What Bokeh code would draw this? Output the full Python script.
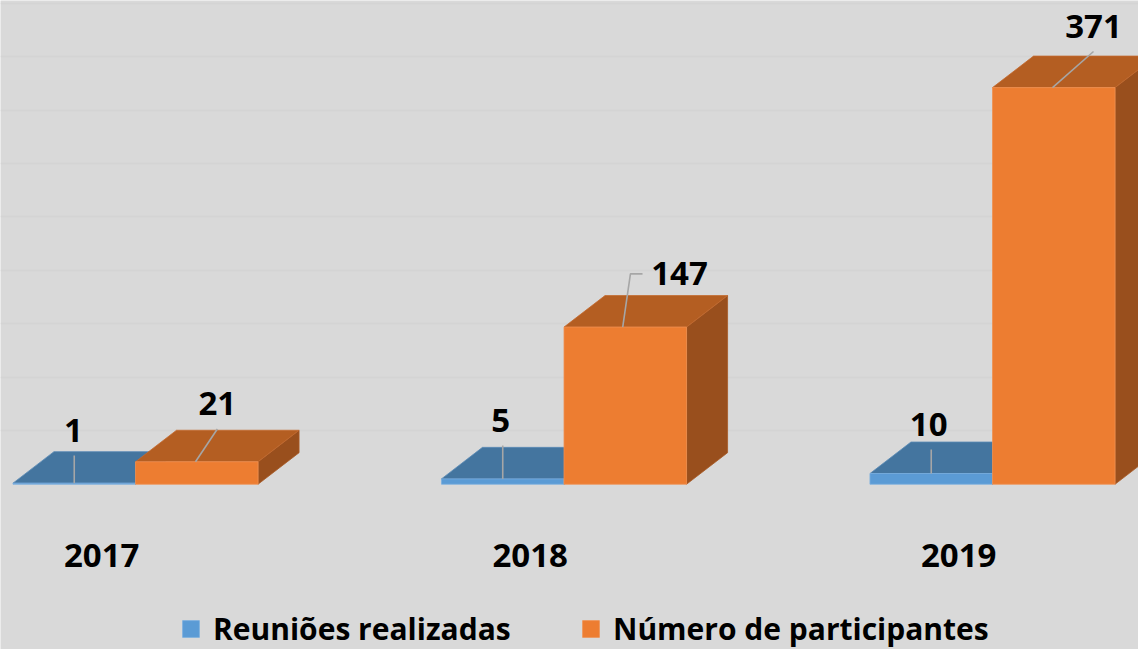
from bokeh.plotting import figure
from bokeh.models import Range1d, FixedTicker, Legend, LegendItem, Grid
from bokeh.core.properties import value
from bokeh.embed import file_html
from bokeh.resources import INLINE

# ---------------- data ----------------
years = ["2017", "2018", "2019"]
reunioes = [1, 5, 10]
participantes = [21, 147, 371]
series_names = ["Reuniões realizadas", "Número de participantes"]
grid_ticks = [50, 100, 150, 200, 250, 300, 350, 400, 450]

# ---------------- styling / geometry (data units) ----------------
W = 0.286     # width of one bar (group spacing = 1)
DX = 0.0957   # 3D depth offset along x
DY = 29.5     # 3D depth offset along y
FONT = "Open Sans"
BG = "#d9d9d9"

BLUE_FRONT, BLUE_TOP, BLUE_SIDE = "#5b9bd5", "#44759f", "#335a80"
OR_FRONT, OR_TOP, OR_SIDE = "#ed7d31", "#b45e22", "#994f1d"

# label offsets relative to front-top-centre of each bar
blue_lab_dx = [-0.002, -0.005, -0.006]
blue_lab_dy = [49.2, 54.6, 45.9]
or_lab_dx = [0.048, 0.1265, 0.0927]
or_lab_dy = [54.1, 49.8, 57.2]
LEAD_GAP = 23.4

p = figure(width=1138, height=649,
           x_range=Range1d(-0.3151, 2.3407), y_range=Range1d(-154.6, 452.5),
           x_axis_location=None, y_axis_location=None,
           output_backend="svg", toolbar_location=None, min_border=0,
           background_fill_color=BG, border_fill_color=BG, outline_line_color=None)
p.grid.visible = False
p.add_layout(Grid(dimension=1, ticker=FixedTicker(ticks=grid_ticks),
                  grid_line_color="#d4d4d4", grid_line_width=1.6))

idx = list(range(len(years)))


def faces(left, right, vals):
    tops_x, tops_y, sides_x, sides_y = [], [], [], []
    for l, r, v in zip(left, right, vals):
        tops_x.append([l, r, r + DX, l + DX])
        tops_y.append([v, v, v + DY, v + DY])
        sides_x.append([r, r + DX, r + DX, r])
        sides_y.append([0, DY, v + DY, v])
    return tops_x, tops_y, sides_x, sides_y


# blue series (left of each group)
bl = [i - W for i in idx]
br = [i for i in idx]
tx, ty, sx, sy = faces(bl, br, reunioes)
p.patches(sx, sy, fill_color=BLUE_SIDE, line_color=BLUE_SIDE, line_width=0.5)
p.patches(tx, ty, fill_color=BLUE_TOP, line_color="#5a8ab5", line_width=0.8)
blue_front = p.quad(left=bl, right=br, bottom=0, top=reunioes,
                    fill_color=BLUE_FRONT, line_color="#7aafe0", line_width=0.8)

# orange series (right of each group)
ol = [i for i in idx]
orr = [i + W for i in idx]
tx, ty, sx, sy = faces(ol, orr, participantes)
p.patches(sx, sy, fill_color=OR_SIDE, line_color="#a85a26", line_width=0.8)
p.patches(tx, ty, fill_color=OR_TOP, line_color="#c46a2e", line_width=0.8)
or_front = p.quad(left=ol, right=orr, bottom=0, top=participantes,
                  fill_color=OR_FRONT, line_color="#f09050", line_width=0.8)

# value labels + leader lines
lab_x, lab_y, lab_t = [], [], []
lead_xs, lead_ys = [], []
for i, v, dx, dy in zip(idx, reunioes, blue_lab_dx, blue_lab_dy):
    cx = i - W / 2
    lx, ly = cx + dx, v + dy
    lab_x.append(lx); lab_y.append(ly); lab_t.append(str(v))
    lead_xs.append([cx, cx]); lead_ys.append([v, ly - LEAD_GAP])
for i, v, dx, dy in zip(idx, participantes, or_lab_dx, or_lab_dy):
    cx = i + W / 2
    lx, ly = cx + dx, v + dy
    lab_x.append(lx); lab_y.append(ly); lab_t.append(str(v))
    if dx > 0.11:   # label placed to the right: elbow leader
        lead_xs.append([cx - 0.006, cx + 0.012, lx - 0.0863])
        lead_ys.append([v, ly, ly])
    else:
        lead_xs.append([cx - 0.003, lx])
        lead_ys.append([v, ly - LEAD_GAP])

p.multi_line(lead_xs, lead_ys, line_color="#a6a6a6", line_width=1.6)
p.text(x=lab_x, y=lab_y, text=lab_t, text_font=value(FONT), text_font_style="bold",
       text_font_size="33px", text_color="#000000", text_align="center",
       text_baseline="middle")

# category labels
p.text(x=[i - 0.079 for i in idx], y=[-66.7] * len(idx), text=years,
       text_font=value(FONT), text_font_style="bold", text_font_size="33px",
       text_color="#000000", text_align="center", text_baseline="middle")

# legends (one per series so each swatch sits where the reference has it)
for rend, name, xpos in [(blue_front, series_names[0], 180), (or_front, series_names[1], 580)]:
    lg = Legend(items=[LegendItem(label=name, renderers=[rend])],
                location=(xpos, 0), orientation="horizontal",
                glyph_width=21, glyph_height=21, label_standoff=12,
                padding=0, margin=0, spacing=0,
                background_fill_alpha=0, border_line_color=None,
                label_text_font=FONT, label_text_font_style="bold",
                label_text_font_size="30px", label_text_color="#000000")
    p.add_layout(lg)

open("out.html", "w").write(file_html(p, INLINE))
